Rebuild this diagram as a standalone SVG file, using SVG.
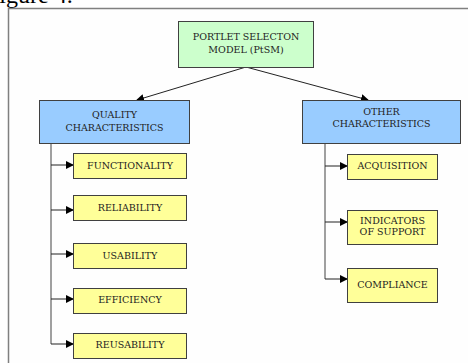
<svg xmlns="http://www.w3.org/2000/svg" width="468" height="363" viewBox="0 0 468 363">
<style>
.t{font-family:"DejaVu Serif","Liberation Serif",serif;font-size:9.5px;fill:#222;text-anchor:middle}
.g{fill:#ccffcc;stroke:#404040;stroke-width:1}
.b{fill:#99ccff;stroke:#404040;stroke-width:1}
.y{fill:#ffff99;stroke:#404040;stroke-width:1}
.v{stroke:#808080;stroke-width:1.5;fill:none}
.h{stroke:#222;stroke-width:1;fill:none;marker-end:url(#ah)}
</style>
<defs>
<marker id="ah" markerWidth="8" markerHeight="8" refX="7" refY="4" orient="auto" markerUnits="userSpaceOnUse">
<path d="M0,0 L8,4 L0,8 z" fill="#000"/>
</marker>
</defs>
<rect width="468" height="363" fill="#fff"/>
<text x="-14" y="3" font-family="Liberation Serif,serif" font-size="24" fill="#000">Figure 4.</text>
<rect x="8.5" y="8.5" width="470" height="370" fill="#fefefe" stroke="#808080" stroke-width="1.5"/>
<g id="connectors">
<path class="h" d="M246,67 L137,100"/>
<path class="h" d="M246,67 L368,100"/>
<path class="v" d="M51,143 V344"/>
<path class="h" d="M51,165 H73"/>
<path class="h" d="M51,210 H73"/>
<path class="h" d="M51,254 H73"/>
<path class="h" d="M51,299 H73"/>
<path class="h" d="M51,344 H73"/>
<path class="v" d="M325,143 V279"/>
<path class="h" d="M325,166 H347"/>
<path class="h" d="M325,222 H347"/>
<path class="h" d="M325,279 H347"/>
</g>
<g id="root"><rect class="g" x="178.5" y="21.5" width="135" height="46"/>
<text class="t" x="246" y="40">PORTLET SELECTON</text><text class="t" x="246" y="53">MODEL (PtSM)</text></g>
<g id="quality"><rect class="b" x="39.5" y="100.5" width="150" height="43"/>
<text class="t" x="114.5" y="118">QUALITY</text><text class="t" x="114.5" y="131">CHARACTERISTICS</text></g>
<g id="other"><rect class="b" x="302.5" y="100.5" width="158" height="43"/>
<text class="t" x="381.5" y="115">OTHER</text><text class="t" x="381.5" y="127">CHARACTERISTICS</text></g>
<g id="functionality"><rect class="y" x="73.5" y="153.5" width="113" height="25"/><text class="t" x="130" y="168.5">FUNCTIONALITY</text></g>
<g id="reliability"><rect class="y" x="73.5" y="195.5" width="113" height="25"/><text class="t" x="130" y="210.5">RELIABILITY</text></g>
<g id="usability"><rect class="y" x="73.5" y="243.5" width="113" height="25"/><text class="t" x="130" y="258.5">USABILITY</text></g>
<g id="efficiency"><rect class="y" x="73.5" y="288.5" width="113" height="25"/><text class="t" x="130" y="303">EFFICIENCY</text></g>
<g id="reusability"><rect class="y" x="73.5" y="333.5" width="113" height="25"/><text class="t" x="130" y="348">REUSABILITY</text></g>
<g id="acquisition"><rect class="y" x="347.5" y="154.5" width="90" height="25"/><text class="t" x="392.5" y="169">ACQUISITION</text></g>
<g id="indicators"><rect class="y" x="347.5" y="210.5" width="90" height="34"/><text class="t" x="392.5" y="224">INDICATORS</text><text class="t" x="392.5" y="235">OF SUPPORT</text></g>
<g id="compliance"><rect class="y" x="347.5" y="268.5" width="90" height="34"/><text class="t" x="392.5" y="288">COMPLIANCE</text></g>
</svg>
